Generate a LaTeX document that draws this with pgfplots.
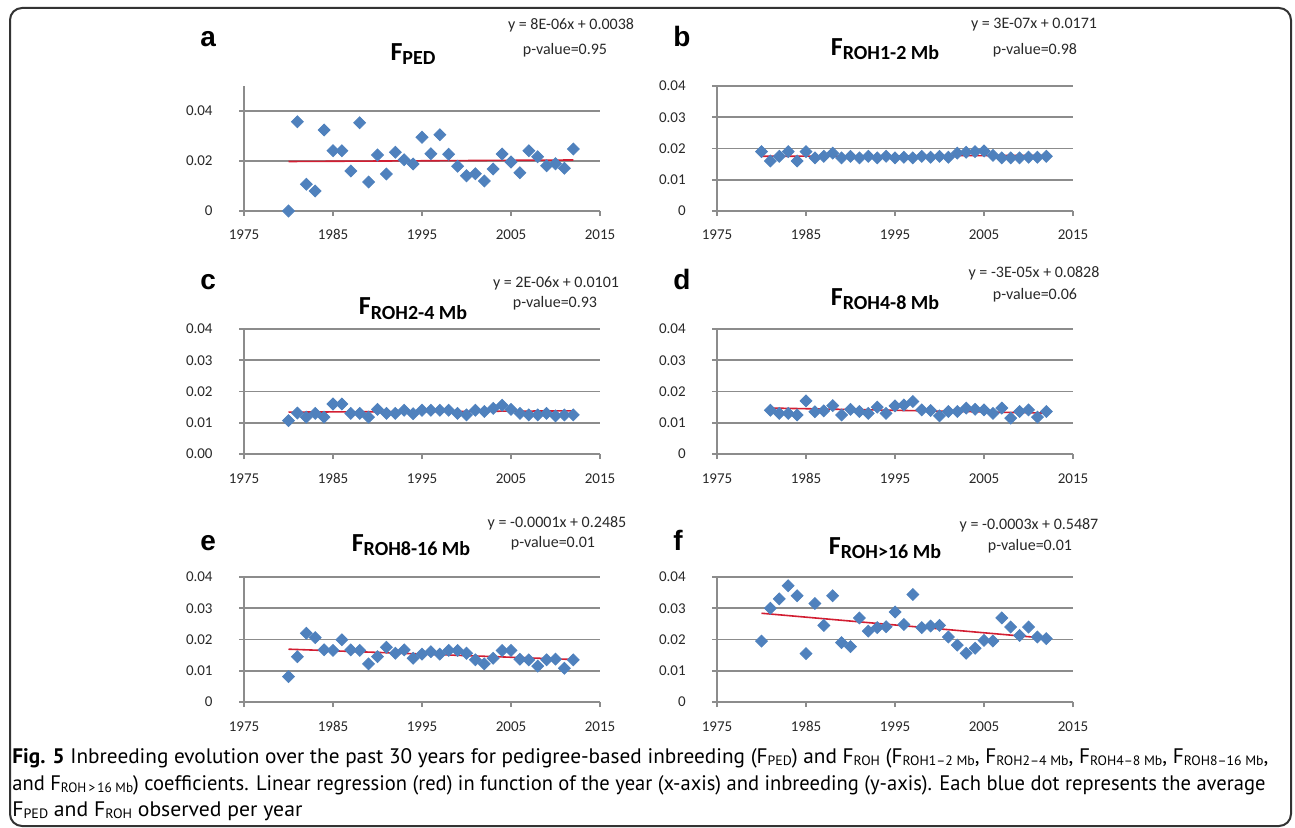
\documentclass[border=0pt]{standalone}
\usepackage{fontspec}
\setmainfont{Carlito}
\newfontfamily\letterfont{Liberation Sans}
\newfontfamily\capfont{PT Sans}
\usepackage{pgfplots}
\pgfplotsset{compat=1.18}

\definecolor{dotblue}{RGB}{79,129,189}
\definecolor{trendred}{RGB}{210,30,50}
\definecolor{gridgray}{RGB}{140,140,140}
\definecolor{labgray}{RGB}{40,40,40}

% one Excel-like panel; plot area 356 x 125 px (1 px = 0.5pt)
\pgfplotsset{
  excelpanel/.style={
    anchor=south west, scale only axis, width=178pt, height=62.5pt,
    xmin=1975, xmax=2015,
    xtick={1975,1985,1995,2005,2015},
    xticklabels={1975,1985,1995,2005,2015},
    scaled y ticks=false,
    axis x line*=bottom, axis y line*=left,
    axis line style={gridgray, line width=0.8pt, -},
    ymajorgrids, grid style={gridgray, line width=0.8pt},
    tick align=outside, major tick length=2.5pt,
    tick style={gridgray, line width=0.8pt},
    ticklabel style={font=\fontsize{7.5}{8}\selectfont, text=labgray, inner sep=0pt},
    xticklabel style={anchor=base, yshift=-12pt},
    yticklabel style={anchor=east, xshift=-13pt},
    clip=false,
  },
  yfour/.style={ymin=0, ymax=0.04, ytick={0,0.01,0.02,0.03,0.04}},
  dots/.style={only marks, mark=square*, mark size=2.1pt,
    mark options={rotate=45, fill=dotblue, draw=dotblue}},
  trend/.style={trendred, line width=0.8pt, no marks},
}

\newcommand\ttl[1]{{\bfseries\fontsize{13}{13}\selectfont F\raisebox{-2pt}{\fontsize{10}{10}\selectfont #1}}}
\newcommand\eqf{\fontsize{8}{9}\selectfont\color{labgray}}
\newcommand\lett[1]{{\letterfont\bfseries\fontsize{14}{14}\selectfont #1}}
\newcommand\sub[1]{\raisebox{-0.2ex}{\fontsize{6.8}{7}\selectfont #1}}
\newcommand\capA{\textbf{Fig. 5} Inbreeding evolution over the past 30 years for pedigree-based inbreeding (F\sub{PED}) and F\sub{ROH} (F\sub{ROH1–2 Mb}, F\sub{ROH2–4 Mb}, F\sub{ROH4–8 Mb}, F\sub{ROH8–16 Mb},}
\newcommand\capB{and F\sub{ROH\,>\,16 Mb}) coefficients. Linear regression (red) in function of the year (x-axis) and inbreeding (y-axis). Each blue dot represents the average}
\newcommand\capC{F\sub{PED} and F\sub{ROH} observed per year}
\newcommand\capline[2]{\resizebox{#1}{\height}{\capfont\fontsize{10.5}{12}\selectfont #2}}

\begin{document}
\begin{tikzpicture}[x=0.5pt, y=-0.5pt]
\path[use as bounding box] (0,0) rectangle (1295,828);
\draw[line width=1pt, black!80, rounded corners=6pt] (10,8) rectangle (1291,826);

% ---- a ----
\begin{axis}[excelpanel, at={(122pt,-105.5pt)}, ymin=0, ymax=0.05,
    ytick={0,0.02,0.04}, yticklabels={0,0.02,0.04}]
\addplot[dots] coordinates {
 (1980,0)(1981,0.0357)(1982,0.0107)(1983,0.0080)(1984,0.0324)(1985,0.0241)(1986,0.0241)
 (1987,0.0160)(1988,0.0353)(1989,0.0116)(1990,0.0224)(1991,0.0148)(1992,0.0235)(1993,0.0205)
 (1994,0.0188)(1995,0.0295)(1996,0.0229)(1997,0.0305)(1998,0.0227)(1999,0.0179)(2000,0.0141)
 (2001,0.0149)(2002,0.0120)(2003,0.0168)(2004,0.0228)(2005,0.0196)(2006,0.0153)(2007,0.0241)
 (2008,0.0217)(2009,0.0181)(2010,0.0189)(2011,0.0171)(2012,0.0248)};
\addplot[trend] coordinates {(1980,0.0198)(2012,0.0204)};
\end{axis}

% ---- b ----
\begin{axis}[excelpanel, yfour, at={(358.5pt,-105.5pt)},
    yticklabels={0,0.01,0.02,0.03,0.04}]
\addplot[dots] coordinates {
 (1980,0.0190)(1981,0.0160)(1982,0.0175)(1983,0.0190)(1984,0.0160)(1985,0.0190)(1986,0.0170)
 (1987,0.0175)(1988,0.0185)(1989,0.0170)(1990,0.0175)(1991,0.0170)(1992,0.0175)(1993,0.0170)
 (1994,0.0175)(1995,0.0170)(1996,0.0172)(1997,0.0170)(1998,0.0175)(1999,0.0172)(2000,0.0175)
 (2001,0.0172)(2002,0.0185)(2003,0.0188)(2004,0.0190)(2005,0.0192)(2006,0.0178)(2007,0.0170)
 (2008,0.0170)(2009,0.0170)(2010,0.0172)(2011,0.0172)(2012,0.0175)};
\addplot[trend] coordinates {(1980,0.0175)(2012,0.0178)};
\end{axis}

% ---- c ----
\begin{axis}[excelpanel, yfour, at={(122pt,-227pt)},
    yticklabels={0.00,0.01,0.02,0.03,0.04}]
\addplot[dots] coordinates {
 (1980,0.0107)(1981,0.0131)(1982,0.0118)(1983,0.0130)(1984,0.0118)(1985,0.0160)(1986,0.0160)
 (1987,0.0130)(1988,0.0130)(1989,0.0118)(1990,0.0143)(1991,0.0130)(1992,0.0130)(1993,0.0140)
 (1994,0.0129)(1995,0.0140)(1996,0.0140)(1997,0.0140)(1998,0.0140)(1999,0.0130)(2000,0.0125)
 (2001,0.0140)(2002,0.0136)(2003,0.0146)(2004,0.0156)(2005,0.0143)(2006,0.0130)(2007,0.0125)
 (2008,0.0125)(2009,0.0130)(2010,0.0122)(2011,0.0125)(2012,0.0125)};
\addplot[trend] coordinates {(1980,0.0134)(2012,0.0138)};
\end{axis}

% ---- d ----
\begin{axis}[excelpanel, yfour, at={(358.5pt,-227pt)},
    yticklabels={0,0.01,0.02,0.03,0.04}]
\addplot[dots] coordinates {
 (1981,0.0140)(1982,0.0130)(1983,0.0130)(1984,0.0125)(1985,0.0170)(1986,0.0135)(1987,0.0138)
 (1988,0.0155)(1989,0.0125)(1990,0.0143)(1991,0.0136)(1992,0.0130)(1993,0.0150)(1994,0.0130)
 (1995,0.0154)(1996,0.0157)(1997,0.0168)(1998,0.0141)(1999,0.0139)(2000,0.0122)(2001,0.0136)
 (2002,0.0136)(2003,0.0147)(2004,0.0143)(2005,0.0141)(2006,0.0130)(2007,0.0147)(2008,0.0115)
 (2009,0.0136)(2010,0.0141)(2011,0.0118)(2012,0.0136)};
\addplot[trend] coordinates {(1981,0.0147)(2012,0.0131)};
\end{axis}

% ---- e ----
\begin{axis}[excelpanel, yfour, at={(122pt,-351pt)},
    yticklabels={0,0.01,0.02,0.03,0.04}]
\addplot[dots] coordinates {
 (1980,0.0081)(1981,0.0145)(1982,0.0220)(1983,0.0206)(1984,0.0167)(1985,0.0165)(1986,0.0199)
 (1987,0.0167)(1988,0.0165)(1989,0.0122)(1990,0.0145)(1991,0.0175)(1992,0.0156)(1993,0.0167)
 (1994,0.0140)(1995,0.0153)(1996,0.0161)(1997,0.0153)(1998,0.0165)(1999,0.0165)(2000,0.0156)
 (2001,0.0135)(2002,0.0122)(2003,0.0140)(2004,0.0165)(2005,0.0165)(2006,0.0137)(2007,0.0135)
 (2008,0.0115)(2009,0.0135)(2010,0.0137)(2011,0.0108)(2012,0.0135)};
\addplot[trend] coordinates {(1980,0.0169)(2012,0.0136)};
\end{axis}

% ---- f ----
\begin{axis}[excelpanel, yfour, at={(358.5pt,-351pt)},
    yticklabels={0,0.01,0.02,0.03,0.04}]
\addplot[dots] coordinates {
 (1980,0.0195)(1981,0.0300)(1982,0.0330)(1983,0.0372)(1984,0.0340)(1985,0.0155)(1986,0.0315)
 (1987,0.0245)(1988,0.0340)(1989,0.0190)(1990,0.0177)(1991,0.0269)(1992,0.0227)(1993,0.0238)
 (1994,0.0241)(1995,0.0288)(1996,0.0248)(1997,0.0344)(1998,0.0238)(1999,0.0243)(2000,0.0245)
 (2001,0.0208)(2002,0.0182)(2003,0.0156)(2004,0.0172)(2005,0.0197)(2006,0.0195)(2007,0.0269)
 (2008,0.0240)(2009,0.0213)(2010,0.0240)(2011,0.0208)(2012,0.0203)};
\addplot[trend] coordinates {(1980,0.0284)(2012,0.0204)};
\end{axis}

% panel letters, titles, regression texts
\node[anchor=base west, inner sep=0pt] at (200,47) {\lett{a}};
\node[anchor=base west, inner sep=0pt] at (673,47) {\lett{b}};
\node[anchor=base west, inner sep=0pt] at (200,290) {\lett{c}};
\node[anchor=base west, inner sep=0pt] at (673,290) {\lett{d}};
\node[anchor=base west, inner sep=0pt] at (200,550) {\lett{e}};
\node[anchor=base west, inner sep=0pt] at (673,550) {\lett{f}};

\node[anchor=base, inner sep=0pt] at (413,61) {\ttl{PED}};
\node[anchor=base, inner sep=0pt] at (885,56) {\ttl{ROH1-2 Mb}};
\node[anchor=base, inner sep=0pt] at (413,315) {\ttl{ROH2-4 Mb}};
\node[anchor=base, inner sep=0pt] at (885,306) {\ttl{ROH4-8 Mb}};
\node[anchor=base, inner sep=0pt] at (411,551) {\ttl{ROH8-16 Mb}};
\node[anchor=base, inner sep=0pt] at (885,554) {\ttl{ROH>16 Mb}};

\node[inner sep=0pt] at (571,25) {\eqf y = 8E-06x + 0.0038};
\node[inner sep=0pt] at (565,50) {\eqf p-value=0.95};
\node[inner sep=0pt] at (1034,25) {\eqf y = 3E-07x + 0.0171};
\node[inner sep=0pt] at (1035,50) {\eqf p-value=0.98};
\node[inner sep=0pt] at (556,283) {\eqf y = 2E-06x + 0.0101};
\node[inner sep=0pt] at (555,303) {\eqf p-value=0.93};
\node[inner sep=0pt] at (1034,273) {\eqf y = -3E-05x + 0.0828};
\node[inner sep=0pt] at (1035,295) {\eqf p-value=0.06};
\node[inner sep=0pt] at (557,523) {\eqf y = -0.0001x + 0.2485};
\node[inner sep=0pt] at (553,543) {\eqf p-value=0.01};
\node[inner sep=0pt] at (1029,525) {\eqf y = -0.0003x + 0.5487};
\node[inner sep=0pt] at (1030,546) {\eqf p-value=0.01};

% caption, each line fitted to the reference line width
\node[anchor=base west, inner sep=0pt] at (12,763) {\capline{628pt}{\capA}};
\node[anchor=base west, inner sep=0pt] at (12,790) {\capline{626.5pt}{\capB}};
\node[anchor=base west, inner sep=0pt] at (12,816) {\capline{145pt}{\capC}};
\end{tikzpicture}
\end{document}
